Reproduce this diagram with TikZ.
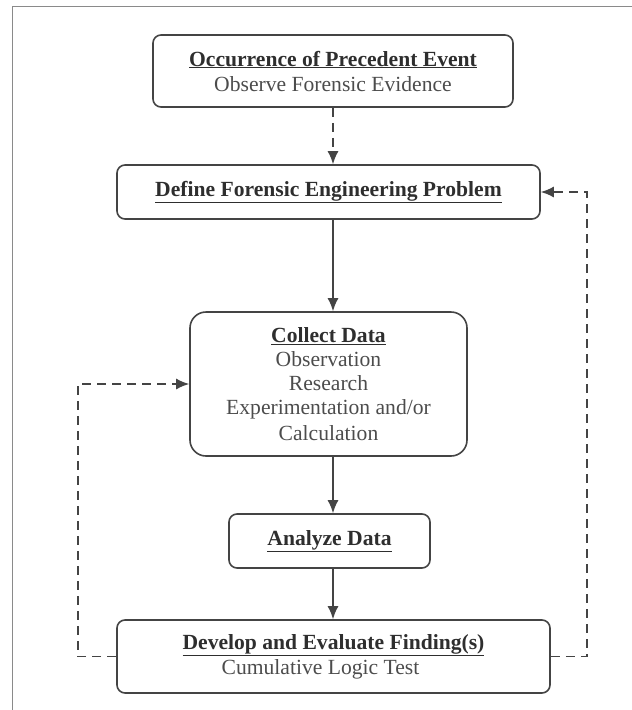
\documentclass[tikz,border=0pt]{standalone}
\usepackage{fontspec}
\setmainfont{Liberation Serif}
\usepackage{tikz}
\usetikzlibrary{calc,arrows.meta}
\usepackage{xcolor}
\definecolor{boxline}{HTML}{444444}
\definecolor{headtext}{HTML}{2E2E2E}
\definecolor{subtext}{HTML}{4C4C4C}
\definecolor{framegray}{HTML}{8A8A8A}
\newcommand{\headline}[1]{\textcolor{headtext}{\underline{\textbf{#1}}}}

\begin{document}
\begin{tikzpicture}[x=1pt,y=-1pt,
  stagebox/.style={draw=boxline,line width=1.6pt,rounded corners=8pt,
    align=center,inner sep=0pt,text=subtext,
    font=\fontsize{21.6}{25}\selectfont},
  flow/.style={draw=boxline,line width=1.6pt,-{Latex[length=13pt,width=11pt]}},
  loop/.style={draw=boxline,line width=1.6pt,dash pattern=on 9pt off 6pt,
    -{Latex[length=13pt,width=11pt]}}]
\useasboundingbox (0,0) rectangle (632,710);
% Rahmen
\draw[framegray,line width=1pt] (12,710) -- (12,6) -- (632,6);
% Kaesten
\node[stagebox,minimum width=360pt,minimum height=72pt] (occur) at (333,71)
  {\headline{Occurrence of Precedent Event}\\Observe Forensic Evidence};
\node[stagebox,minimum width=423pt,minimum height=54pt] (define) at (328.5,192)
  {\headline{Define Forensic Engineering Problem}};
\node[stagebox,rounded corners=16pt,minimum width=277pt,minimum height=144pt,
  font=\fontsize{21.6}{24}\selectfont] (collect) at (328.5,384)
  {\headline{Collect Data}\\Observation\\Research\\Experimentation and/or\\[2pt]Calculation};
\node[stagebox,minimum width=201pt,minimum height=54pt] (analyze) at (329.5,541)
  {\headline{Analyze Data}};
\node[stagebox,minimum width=433pt,minimum height=73pt] (develop) at (333.5,656.5)
  {\headline{Develop and Evaluate Finding(s)}\\Cumulative Logic Test\hspace*{26pt}};
% Pfeile
\draw[loop] (occur.south -| 333,0) -- (define.north -| 333,0);
\draw[flow] (define.south -| 333,0) -- (collect.north -| 333,0);
\draw[flow] (collect.south -| 333,0) -- (analyze.north -| 333,0);
\draw[flow] (analyze.south -| 333,0) -- (develop.north -| 333,0);
% Rueckkopplung
\draw[loop] (develop.west) -- (78,656.5) |- (collect.west);
\draw[loop] (develop.east) -- (587,656.5) |- (define.east);
\end{tikzpicture}
\end{document}
